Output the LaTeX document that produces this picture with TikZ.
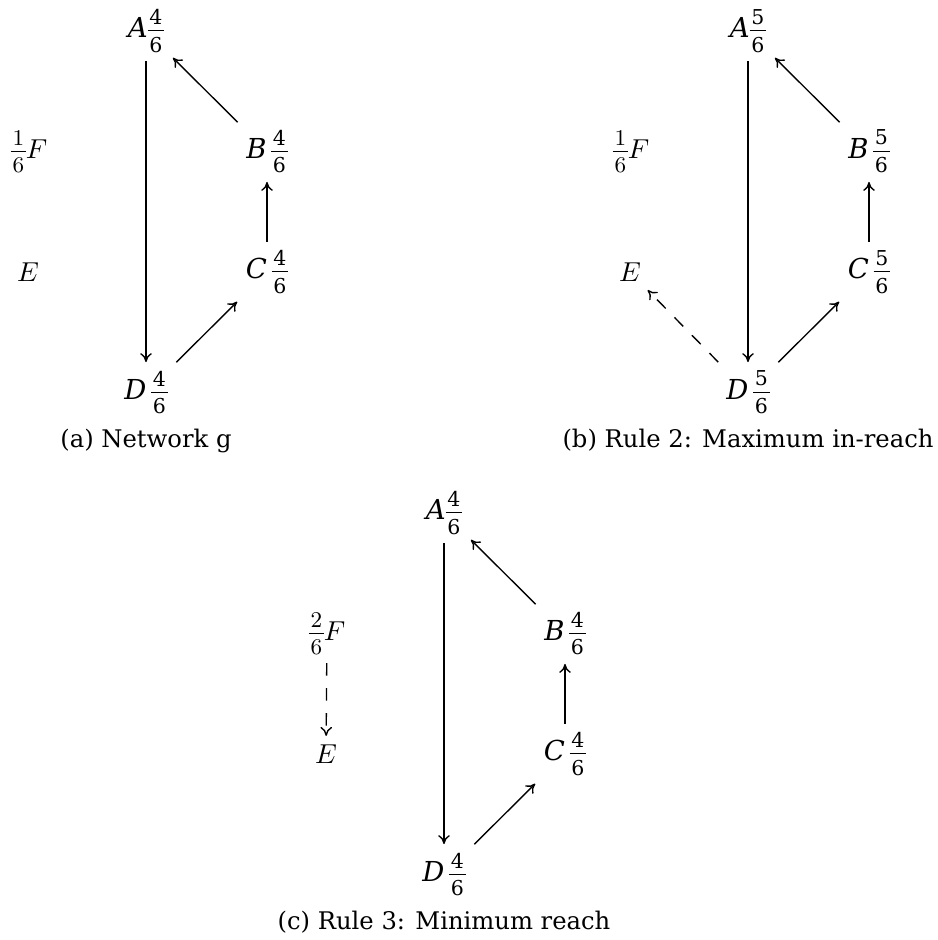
\documentclass[tikz,border=0pt]{standalone}
\usepackage{amsmath}
\usepackage[no-math]{fontspec}
\setmainfont{DejaVu Serif}
\usetikzlibrary{arrows.meta}
\newcommand{\frs}[3]{\ensuremath{\vcenter{\hbox{\fontsize{#1}{9}\selectfont\vbox{\offinterlineskip\halign{\hskip0.7pt\hfil##\hfil\hskip0.7pt\cr#2\cr\noalign{\kern2.3pt\hrule height0.45pt\kern2.3pt}#3\cr}}}}}}
\newcommand{\fr}[2]{\frs{8.2}{#1}{#2}}
\newcommand{\mfr}[2]{\frs{9.4}{$#1$}{$#2$}}
\begin{document}
\begin{tikzpicture}[x=0.4pt,y=-0.4pt,
  vnode/.style={inner sep=3.3pt, font=\fontsize{11}{13}\selectfont},
  mnode/.style={inner sep=3.3pt, font=\fontsize{11}{13}\selectfont},
  capt/.style={anchor=base, font=\fontsize{9.7}{11}\selectfont},
  edge/.style={-{To[length=3.6pt,width=4.6pt]}, line width=0.55pt},
  dedge/.style={-{To[length=3.6pt,width=4.6pt]}, line width=0.55pt, dash pattern=on 5pt off 5pt}]
\useasboundingbox (0,0) rectangle (938,940);
% panel (a)
\begin{scope}[shift={(0,0)}]
\node[vnode] (aA) at (146,31) {\textit{A}\fr{4}{6}};
\node[vnode] (aB) at (267,151.5) {\textit{B}\,\fr{4}{6}};
\node[vnode] (aC) at (267,272) {\textit{C}\,\fr{4}{6}};
\node[vnode] (aD) at (146,392.5) {\textit{D}\,\fr{4}{6}};
\node[mnode] (aF) at (29,151.5) {$\mfr{1}{6}F$};
\node[mnode] (aE) at (28,272) {$E$};
\node[capt] (acap) at (146,447) {(a) Network g};
\draw[edge] (aA) -- (aD);
\draw[edge] (aB) -- (aA);
\draw[edge] (aC) -- (aB);
\draw[edge] (aD) -- (aC);
\end{scope}
% panel (b)
\begin{scope}[shift={(602,0)}]
\node[vnode] (bA) at (146,31) {\textit{A}\fr{5}{6}};
\node[vnode] (bB) at (267,151.5) {\textit{B}\,\fr{5}{6}};
\node[vnode] (bC) at (267,272) {\textit{C}\,\fr{5}{6}};
\node[vnode] (bD) at (146,392.5) {\textit{D}\,\fr{5}{6}};
\node[mnode] (bF) at (29,151.5) {$\mfr{1}{6}F$};
\node[mnode] (bE) at (28,272) {$E$};
\node[capt] (bcap) at (146,447) {(b) Rule 2: Maximum in-reach};
\draw[edge] (bA) -- (bD);
\draw[edge] (bB) -- (bA);
\draw[edge] (bC) -- (bB);
\draw[edge] (bD) -- (bC);
\draw[dedge] (bD) -- (bE);
\end{scope}
% panel (c)
\begin{scope}[shift={(298,482)}]
\node[vnode] (cA) at (146,31) {\textit{A}\fr{4}{6}};
\node[vnode] (cB) at (267,151.5) {\textit{B}\,\fr{4}{6}};
\node[vnode] (cC) at (267,272) {\textit{C}\,\fr{4}{6}};
\node[vnode] (cD) at (146,392.5) {\textit{D}\,\fr{4}{6}};
\node[mnode] (cF) at (29,151.5) {$\mfr{2}{6}F$};
\node[mnode] (cE) at (28,272) {$E$};
\node[capt] (ccap) at (146,447) {(c) Rule 3: Minimum reach};
\draw[edge] (cA) -- (cD);
\draw[edge] (cB) -- (cA);
\draw[edge] (cC) -- (cB);
\draw[edge] (cD) -- (cC);
\draw[dedge] (cF) -- (cE);
\end{scope}
\end{tikzpicture}
\end{document}
